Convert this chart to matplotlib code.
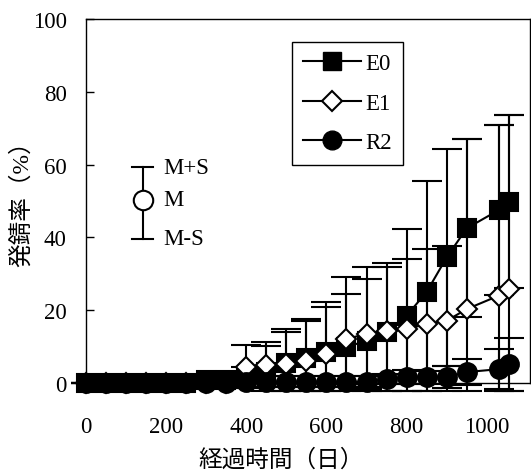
import numpy as np
import matplotlib.pyplot as plt
from matplotlib.lines import Line2D

# elapsed days
days = np.array([0, 50, 100, 150, 200, 250, 300, 350, 400, 450, 500, 550, 600,
                 650, 700, 750, 800, 850, 900, 950, 1030, 1055])

# mean rusting rate (%) and standard deviation for each series
e0_mean = np.array([0, 0, 0, 0, 0, 0, 0.8, 0.8, 1.5, 3.0, 5.5, 7.0, 8.5,
                    10.0, 11.5, 14.0, 18.5, 25.0, 34.5, 42.5, 47.5, 49.8])
e0_sd = np.array([0, 0, 0, 0, 0, 0, 0, 0, 3.0, 8.2, 9.3, 10.6, 13.7,
                  19.0, 20.3, 19.0, 23.8, 30.5, 29.8, 24.5, 23.4, 23.8])

e1_mean = np.array([0, 0, 0, 0, 0, 0, 0, 0, 4.5, 5.0, 5.2, 6.1, 8.0,
                    12.1, 13.5, 14.4, 14.8, 16.2, 17.1, 20.3, 24.0, 25.8])
e1_sd = np.array([0, 0, 0, 0, 0, 0, 0, 0, 5.9, 5.1, 8.8, 11.0, 12.8,
                  12.3, 15.1, 17.6, 19.2, 20.6, 20.6, 46.7, 46.9, 47.8])

r2_mean = np.array([0, 0, 0, 0, 0, 0, 0, 0, 0.3, 0.3, 0.3, 0.3, 0.3,
                    0.3, 0.3, 1.1, 1.6, 1.6, 1.6, 3.0, 3.8, 5.2])
r2_sd = np.array([0, 0, 0, 0, 0, 0, 0, 0, 1.5, 1.5, 1.5, 1.5, 1.5,
                  1.5, 1.5, 1.5, 2.0, 1.8, 3.0, 3.6, 5.5, 7.3])

series = ['E0', 'E1', 'R2']

serif = ['Liberation Serif', 'Noto Sans CJK JP']
plt.rcParams['font.family'] = serif
plt.rcParams['font.size'] = 16

fig = plt.figure(figsize=(5.31, 4.77), dpi=100)
ax = fig.add_axes([86 / 531, 93 / 477, 444 / 531, 364 / 477])


def draw(mean, sd, marker, ms, mfc, z):
    # lower bars of the original stop a little under the axis
    lo = np.minimum(sd, mean + 2.3)
    cont = ax.errorbar(days, mean, yerr=[lo, sd], color='k', lw=1.5,
                       marker=marker, ms=ms, mfc=mfc, mec='k', mew=1.5,
                       ecolor='k', elinewidth=1.5, capsize=11, capthick=1.5,
                       zorder=z)
    for art in cont.get_children():
        art.set_clip_on(False)
    cont.lines[0].set_zorder(z + 0.5)


draw(e0_mean, e0_sd, 's', 13.5, 'k', 3)
draw(e1_mean, e1_sd, 'D', 10, 'white', 4)
draw(r2_mean, r2_sd, 'o', 13.5, 'k', 5)

ax.set_xlim(0, 1108)
ax.set_ylim(0, 100)
ax.set_xticks([0, 200, 400, 600, 800, 1000])
ax.set_yticks([0, 20, 40, 60, 80, 100])
ax.tick_params(axis='x', length=0, pad=24, labelsize=16.5)
ax.tick_params(axis='y', direction='in', length=6, width=1, pad=14, labelsize=16.5)
for sp in ax.spines.values():
    sp.set_linewidth(1.0)

ax.set_xlabel('経過時間（日）', fontsize=17)
ax.set_ylabel('発錆率（%）', fontsize=17)
ax.xaxis.set_label_coords(0.44, -0.18)
ax.yaxis.set_label_coords(-0.12, 0.51)

handles = [
    Line2D([], [], color='k', lw=1.5, marker='s', ms=13.5, mfc='k', mec='k'),
    Line2D([], [], color='k', lw=1.5, marker='D', ms=10, mfc='white', mec='k', mew=1.5),
    Line2D([], [], color='k', lw=1.5, marker='o', ms=13.5, mfc='k', mec='k'),
]
leg = ax.legend(handles, series, loc='upper left', bbox_to_anchor=(0.464, 0.937),
                borderaxespad=0, fancybox=False, edgecolor='k', framealpha=1,
                handlelength=2.5, handletextpad=0.2, labelspacing=0.8,
                borderpad=0.5, fontsize=16.5)
leg.get_frame().set_linewidth(1.0)

# key explaining the error bars (mean +/- sd)
kx, km, kp, kn, cw = 0.128, 0.503, 0.593, 0.396, 0.024
tr = ax.transAxes
ax.plot([kx, kx], [kn, kp], color='k', lw=1.5, transform=tr)
ax.plot([kx - cw, kx + cw], [kp, kp], color='k', lw=1.5, transform=tr)
ax.plot([kx - cw, kx + cw], [kn, kn], color='k', lw=1.5, transform=tr)
ax.plot([kx], [km], marker='o', ms=14, mfc='white', mec='k', mew=1.5, transform=tr)
for yy, txt in [(kp, 'M+S'), (km, 'M'), (kn, 'M-S')]:
    ax.text(0.173, yy, txt, transform=tr, va='center', ha='left', fontsize=16.5)

fig.savefig('out.png', dpi=100)
